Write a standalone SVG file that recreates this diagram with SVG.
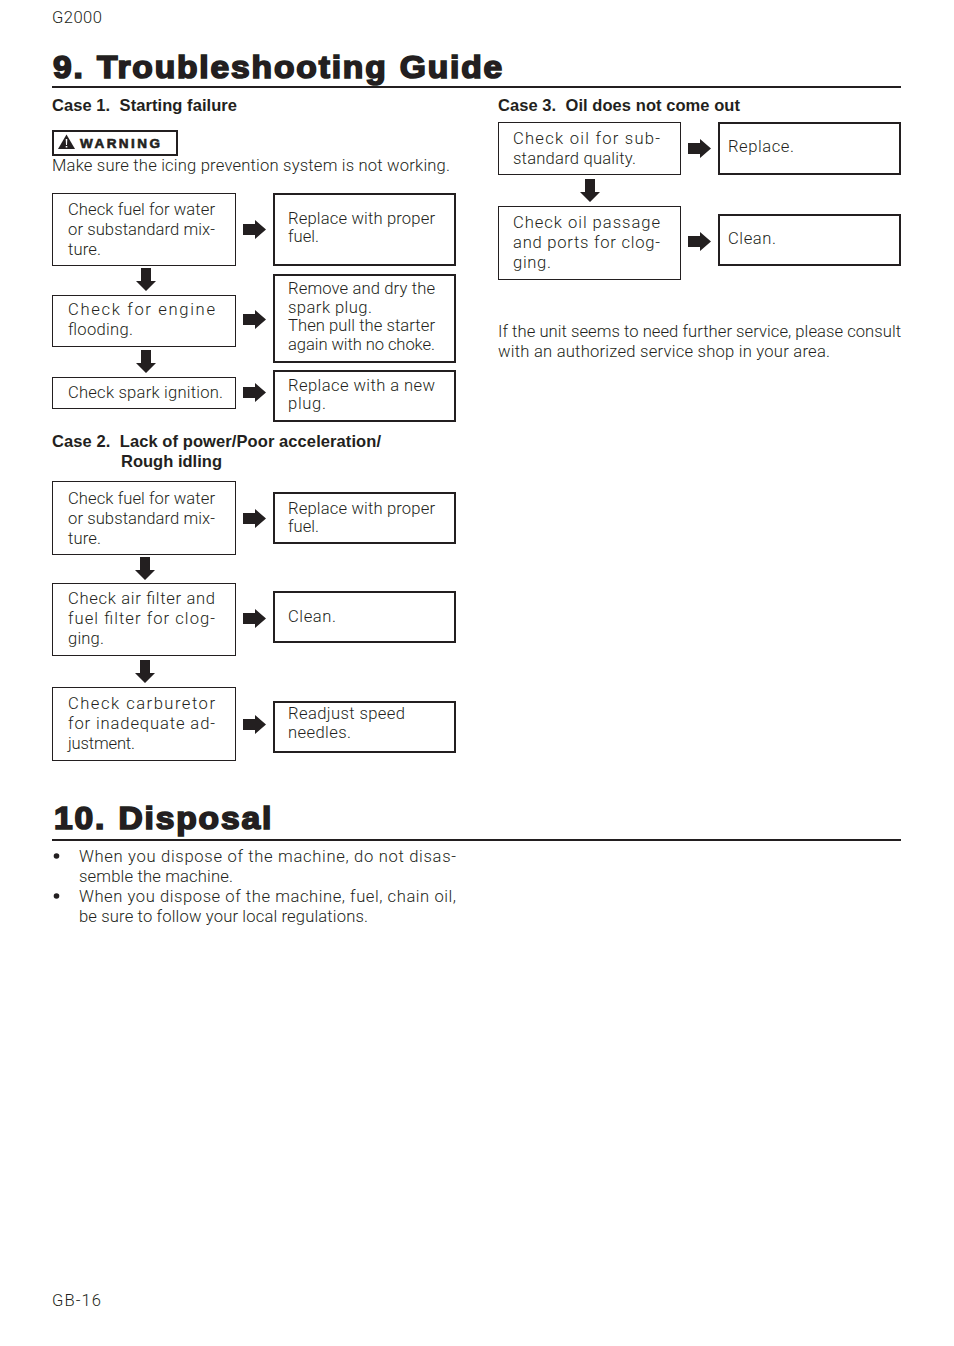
<svg xmlns="http://www.w3.org/2000/svg" width="954" height="1346" viewBox="0 0 954 1346">
<style>
text{font-family:"Liberation Sans",Arial,sans-serif;fill:#231f20;white-space:pre}
.t{font-family:Roboto,"Liberation Sans",sans-serif;font-weight:300;font-size:16.600px;fill:#231f20}
.s{font-size:16.5px;font-weight:bold}
.h{font-size:32px;font-weight:bold;stroke:#231f20;stroke-width:1.700px;letter-spacing:1.750px;word-spacing:1px}
.w{font-size:13.500px;font-weight:bold;stroke:#231f20;stroke-width:.6px}
.l{fill:#fff;stroke:#231f20;stroke-width:1}
.r{fill:#fff;stroke:#231f20;stroke-width:2}
.rule{stroke:#231f20;stroke-width:2}
</style>
<defs>
<path id="ar" d="M243 224H255V220L266 229.500L255 239V235H243Z" fill="#231f20"/>
<path id="ad" d="M-5 0H5V13H10L0 23L-10 13H-5Z" fill="#231f20"/>
</defs>
<rect width="954" height="1346" fill="#fff"/>
<g id="page-text">
<text class="t" x="52" y="23" textLength="50">G2000</text>
<text class="h" transform="translate(53 78) scale(1.05 1)">9. Troubleshooting Guide</text>
<line class="rule" x1="52" y1="87" x2="901" y2="87"/>
<text class="s" x="52" y="111" textLength="185">Case 1.  Starting failure</text>
<text class="s" x="498" y="111" textLength="242">Case 3.  Oil does not come out</text>
<text class="t" x="52" y="171" textLength="398">Make sure the icing prevention system is not working.</text>
<text class="s" x="52" y="447" textLength="329">Case 2.  Lack of power/Poor acceleration/</text>
<text class="s" x="121" y="467" textLength="101">Rough idling</text>
<text class="t" x="498" y="337" textLength="403">If the unit seems to need further service, please consult</text>
<text class="t" x="498" y="357" textLength="332">with an authorized service shop in your area.</text>
<text class="h" transform="translate(54 829) scale(1.05 1)">10. Disposal</text>
<line class="rule" x1="52" y1="840" x2="901" y2="840"/>
<circle cx="56.500" cy="856" r="2.800" fill="#231f20"/>
<text class="t" x="79" y="862" textLength="377">When you dispose of the machine, do not disas-</text>
<text class="t" x="79" y="882" textLength="154">semble the machine.</text>
<circle cx="56.500" cy="896" r="2.800" fill="#231f20"/>
<text class="t" x="79" y="902" textLength="377">When you dispose of the machine, fuel, chain oil,</text>
<text class="t" x="79" y="922" textLength="289">be sure to follow your local regulations.</text>
<text class="t" x="52" y="1306" textLength="49">GB-16</text>
</g>
<g id="warning">
<rect x="53" y="131" width="124" height="24" fill="#fff" stroke="#231f20" stroke-width="2"/>
<path d="M66.500 134.500L75 149H58Z" fill="#231f20"/>
<path d="M65.700 139H67.300L67 145H66ZM65.700 146H67.300V147.500H65.700Z" fill="#fff"/>
<text class="w" x="80" y="148" textLength="80">WARNING</text>
</g>
<g id="connectors">
<use href="#ar"/>
<use href="#ar" y="90"/>
<use href="#ar" y="163"/>
<use href="#ar" y="289"/>
<use href="#ar" y="389"/>
<use href="#ar" y="495"/>
<use href="#ar" x="445" y="-81"/>
<use href="#ar" x="445" y="12"/>
<use href="#ad" x="146" y="268"/>
<use href="#ad" x="146" y="350"/>
<use href="#ad" x="145" y="557"/>
<use href="#ad" x="145" y="660"/>
<use href="#ad" x="590" y="179"/>
</g>
<g id="c1-check-fuel"><rect class="l" x="52.500" y="193.500" width="183" height="72"/>
<text class="t" x="68" y="215" textLength="147">Check fuel for water</text>
<text class="t" x="68" y="235" textLength="147">or substandard mix-</text>
<text class="t" x="68" y="255" textLength="33">ture.</text></g>
<g id="c1-replace-fuel"><rect class="r" x="274" y="194" width="181" height="71"/>
<text class="t" x="288" y="224" textLength="147">Replace with proper</text>
<text class="t" x="288" y="242" textLength="31">fuel.</text></g>
<g id="c1-check-flooding"><rect class="l" x="52.500" y="295.500" width="183" height="51"/>
<text class="t" x="68" y="315" textLength="147">Check for engine</text>
<text class="t" x="68" y="335" textLength="65">flooding.</text></g>
<g id="c1-dry-plug"><rect class="r" x="274" y="275" width="181" height="87"/>
<text class="t" x="288" y="294" textLength="147">Remove and dry the</text>
<text class="t" x="288" y="313" textLength="84">spark plug.</text>
<text class="t" x="288" y="331" textLength="147">Then pull the starter</text>
<text class="t" x="288" y="350" textLength="147">again with no choke.</text></g>
<g id="c1-check-spark"><rect class="l" x="52.500" y="377.500" width="183" height="31"/>
<text class="t" x="68" y="398" textLength="155">Check spark ignition.</text></g>
<g id="c1-new-plug"><rect class="r" x="274" y="371" width="181" height="50"/>
<text class="t" x="288" y="391" textLength="147">Replace with a new</text>
<text class="t" x="288" y="409" textLength="38">plug.</text></g>
<g id="c2-check-fuel"><rect class="l" x="52.500" y="481.500" width="183" height="73"/>
<text class="t" x="68" y="504" textLength="147">Check fuel for water</text>
<text class="t" x="68" y="524" textLength="147">or substandard mix-</text>
<text class="t" x="68" y="544" textLength="33">ture.</text></g>
<g id="c2-replace-fuel"><rect class="r" x="274" y="493" width="181" height="50"/>
<text class="t" x="288" y="514" textLength="147">Replace with proper</text>
<text class="t" x="288" y="532" textLength="31">fuel.</text></g>
<g id="c2-check-filter"><rect class="l" x="52.500" y="583.500" width="183" height="72"/>
<text class="t" x="68" y="604" textLength="147">Check air filter and</text>
<text class="t" x="68" y="624" textLength="147">fuel filter for clog-</text>
<text class="t" x="68" y="644" textLength="36">ging.</text></g>
<g id="c2-clean"><rect class="r" x="274" y="592" width="181" height="50"/>
<text class="t" x="288" y="622" textLength="48">Clean.</text></g>
<g id="c2-check-carb"><rect class="l" x="52.500" y="687.500" width="183" height="73"/>
<text class="t" x="68" y="709" textLength="147">Check carburetor</text>
<text class="t" x="68" y="729" textLength="147">for inadequate ad-</text>
<text class="t" x="68" y="749" textLength="67">justment.</text></g>
<g id="c2-readjust"><rect class="r" x="274" y="702" width="181" height="50"/>
<text class="t" x="288" y="719" textLength="117">Readjust speed</text>
<text class="t" x="288" y="738" textLength="63">needles.</text></g>
<g id="c3-check-oil"><rect class="l" x="498.500" y="122.500" width="182" height="52"/>
<text class="t" x="513" y="144" textLength="147">Check oil for sub-</text>
<text class="t" x="513" y="164" textLength="123">standard quality.</text></g>
<g id="c3-replace"><rect class="r" x="719" y="123" width="181" height="51"/>
<text class="t" x="728" y="152" textLength="66">Replace.</text></g>
<g id="c3-check-passage"><rect class="l" x="498.500" y="206.500" width="182" height="73"/>
<text class="t" x="513" y="228" textLength="147">Check oil passage</text>
<text class="t" x="513" y="248" textLength="147">and ports for clog-</text>
<text class="t" x="513" y="268" textLength="38">ging.</text></g>
<g id="c3-clean"><rect class="r" x="719" y="215" width="181" height="50"/>
<text class="t" x="728" y="244" textLength="48">Clean.</text></g>
</svg>
